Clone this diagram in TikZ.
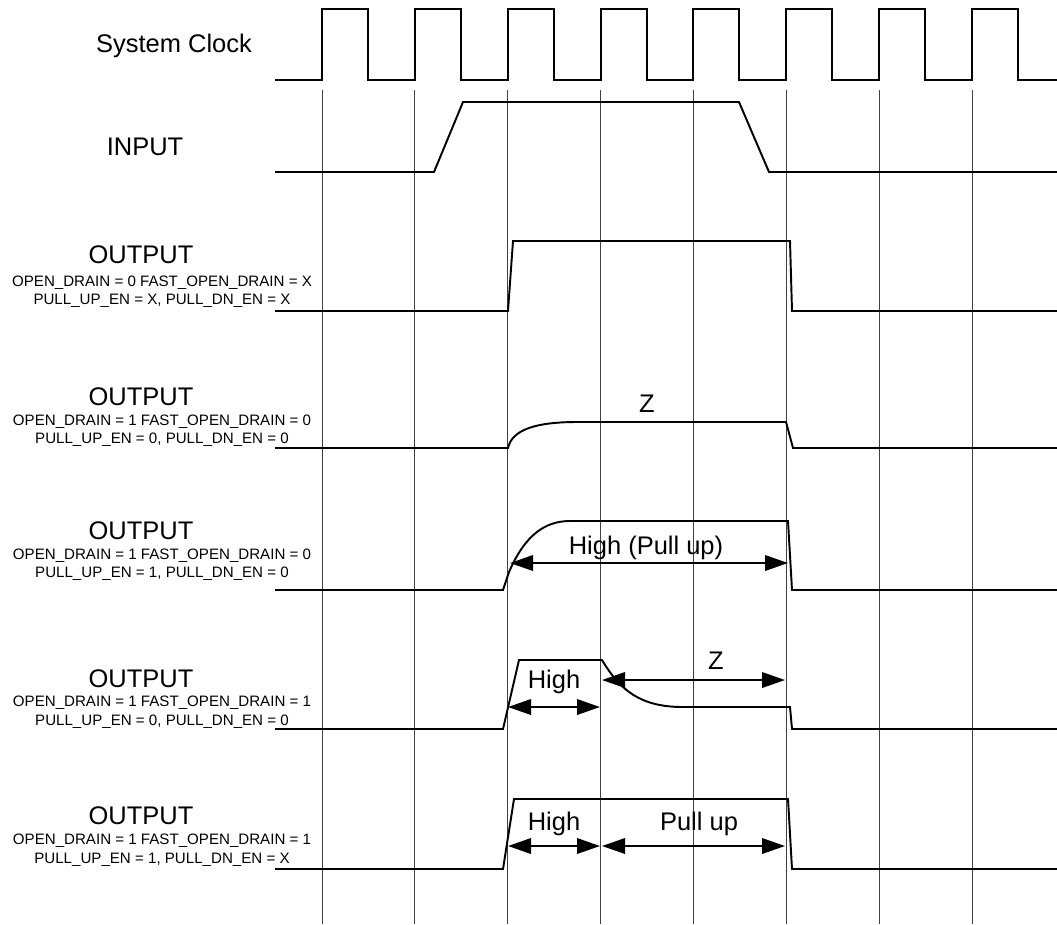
\documentclass[tikz,border=0pt]{standalone}
\usepackage{fontspec}
\setmainfont{Liberation Sans}
\usetikzlibrary{arrows.meta}
\tikzset{
  sig/.style={line width=1.1pt, color=black, line join=miter},
  gridline/.style={line width=0.55pt, color=black!75},
  dimarrow/.style={{Triangle[length=0.46cm,width=0.31cm]}-{Triangle[length=0.46cm,width=0.31cm]}, line width=1.1pt},
  biglabel/.style={font=\fontsize{14.5}{17}\selectfont, inner sep=0pt, anchor=base},
  cfglabel/.style={font=\fontsize{8.6}{10}\selectfont, inner sep=0pt, anchor=base},
  marklabel/.style={font=\fontsize{14.5}{17}\selectfont, inner sep=0pt, anchor=base}
}

\begin{document}
\begin{tikzpicture}[x=0.02cm, y=-0.02cm]
  \useasboundingbox (0,0) rectangle (1057,924);

  % Clock grid
  \foreach \k in {0,...,7}
    \draw[gridline] ({322+92.86*\k},90) -- ({322+92.86*\k},924);

  % System Clock
  \node[biglabel] (lbl_clk) at (174,52) {System Clock};
  \draw[sig] (275,80)
    \foreach \k in {0,...,7} {
      -- ({322+92.86*\k},80) -- ({322+92.86*\k},9)
      -- ({368+92.86*\k},9) -- ({368+92.86*\k},80)
    } -- (1057,80);

  % INPUT
  \node[biglabel] (lbl_in) at (145,155) {INPUT};
  \draw[sig] (275,172) -- (434,172) -- (463,102) -- (739,102) -- (769,172) -- (1057,172);

  % OUTPUT, push-pull
  \node[biglabel] (out1) at (141,263) {OUTPUT};
  \node[cfglabel] (out1_a) at (162,286) {OPEN\_DRAIN = 0 FAST\_OPEN\_DRAIN = X};
  \node[cfglabel] (out1_b) at (162,304) {PULL\_UP\_EN = X, PULL\_DN\_EN = X};
  \draw[sig] (275,311) -- (508,311) -- (513,241) -- (790,241) -- (792,311) -- (1057,311);

  % OUTPUT, open drain, no pull
  \node[biglabel] (out2) at (141,405) {OUTPUT};
  \node[cfglabel] (out2_a) at (162,425) {OPEN\_DRAIN = 1 FAST\_OPEN\_DRAIN = 0};
  \node[cfglabel] (out2_b) at (162,443) {PULL\_UP\_EN = 0, PULL\_DN\_EN = 0};
  \draw[sig] (275,448) -- (508,448) .. controls (512,430) and (535,422) .. (577,422)
    -- (786,422) -- (793,448) -- (1057,448);
  \node[marklabel] (out2_z) at (647,412) {Z};

  % OUTPUT, open drain, pull up
  \node[biglabel] (out3) at (141,539) {OUTPUT};
  \node[cfglabel] (out3_a) at (162,559) {OPEN\_DRAIN = 1 FAST\_OPEN\_DRAIN = 0};
  \node[cfglabel] (out3_b) at (162,577) {PULL\_UP\_EN = 1, PULL\_DN\_EN = 0};
  \draw[sig] (275,590) -- (503,590) -- (509,572) .. controls (525,535) and (545,521) .. (570,521)
    -- (788,521) -- (792,590) -- (1057,590);
  \coordinate (out3_l) at (510,563);
  \coordinate (out3_r) at (788,563);
  \draw[dimarrow] (out3_l) -- (out3_r);
  \node[marklabel] (out3_txt) at (646,554) {High (Pull up)};

  % OUTPUT, fast open drain, no pull
  \node[biglabel] (out4) at (141,687) {OUTPUT};
  \node[cfglabel] (out4_a) at (162,706) {OPEN\_DRAIN = 1 FAST\_OPEN\_DRAIN = 1};
  \node[cfglabel] (out4_b) at (162,725) {PULL\_UP\_EN = 0, PULL\_DN\_EN = 0};
  \draw[sig] (275,729) -- (503,729) -- (519,660) -- (602,660) .. controls (620,690) and (640,707) .. (683,707)
    -- (790,707) -- (792,729) -- (1057,729);
  \coordinate (out4_hl) at (508,707);
  \coordinate (out4_hr) at (600,707);
  \coordinate (out4_zl) at (602,680);
  \coordinate (out4_zr) at (785,680);
  \draw[dimarrow] (out4_hl) -- (out4_hr);
  \draw[dimarrow] (out4_zl) -- (out4_zr);
  \node[marklabel] (out4_high) at (554,688) {High};
  \node[marklabel] (out4_z) at (716,669) {Z};

  % OUTPUT, fast open drain, pull up
  \node[biglabel] (out5) at (141,824) {OUTPUT};
  \node[cfglabel] (out5_a) at (162,844) {OPEN\_DRAIN = 1 FAST\_OPEN\_DRAIN = 1};
  \node[cfglabel] (out5_b) at (162,863) {PULL\_UP\_EN = 1, PULL\_DN\_EN = X};
  \draw[sig] (275,869) -- (503,869) -- (514,799) -- (788,799) -- (792,869) -- (1057,869);
  \coordinate (out5_hl) at (508,846);
  \coordinate (out5_hr) at (600,846);
  \coordinate (out5_pl) at (602,846);
  \coordinate (out5_pr) at (785,846);
  \draw[dimarrow] (out5_hl) -- (out5_hr);
  \draw[dimarrow] (out5_pl) -- (out5_pr);
  \node[marklabel] (out5_high) at (554,830) {High};
  \node[marklabel] (out5_pu) at (699,830) {Pull up};
\end{tikzpicture}
\end{document}
